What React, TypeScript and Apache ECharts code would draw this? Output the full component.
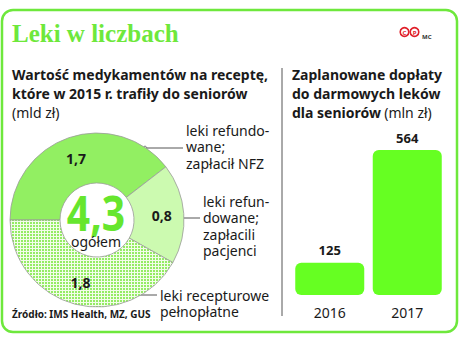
import React, { useEffect, useRef } from "react";
import * as echarts from "echarts";

const pieNames = ["leki refundowane; zapłacił NFZ", "leki refundowane; zapłacili pacjenci", "leki recepturowe pełnopłatne"];
const pieValues = [1.7, 0.8, 1.8];
const barCategories = ["2016", "2017"];
const barValues = [125, 564];

const SANS = "'Noto Sans', 'Open Sans', sans-serif";

function makePattern(): string {
  const c = document.createElement("canvas");
  c.width = 3;
  c.height = 3;
  const ctx = c.getContext("2d")!;
  ctx.fillStyle = "#f2fde9";
  ctx.fillRect(0, 0, 3, 3);
  ctx.fillStyle = "#94ec64";
  ctx.fillRect(0, 0, 2, 2);
  return c.toDataURL();
}

export default function App() {
  const ref = useRef<HTMLDivElement>(null);
  useEffect(() => {
    const chart = echarts.init(ref.current!, undefined, { renderer: "svg" });
    const total = pieValues.reduce((a, b) => a + b, 0);
    const fmt = (v: number) => v.toFixed(1).replace(".", ",");
    const pat = makePattern();
    const pieColors: any[] = ["#92ef62", "#ccfab0", { image: pat, repeat: "repeat" }];
    const txt = (x: number, y: number, text: string, style: any = {}) => ({
      type: "text",
      x,
      y,
      style: { text, fill: "#1a1a1a", font: `14px ${SANS}`, lineHeight: 16.5, ...style },
    });
    const leader = (x1: number, y: number, x2: number) => [
      { type: "line", shape: { x1, y1: y, x2, y2: y }, style: { stroke: "#555", lineWidth: 1 } },
      { type: "circle", shape: { cx: x1, cy: y, r: 1.8 }, style: { fill: "#fff", stroke: "#777", lineWidth: 1 } },
    ];
    const badge = (cx: number, letter: string) => [
      { type: "circle", shape: { cx, cy: 32, r: 4.3 }, style: { fill: "#fff", stroke: "#e0202a", lineWidth: 1.6 } },
      {
        type: "text",
        x: cx,
        y: 32.5,
        style: { text: letter, font: `bold 6px ${SANS}`, fill: "#e0202a", align: "center", verticalAlign: "middle" },
      },
    ];
    chart.setOption({
      animation: false,
      grid: { left: 291, right: 24, top: 150, bottom: 51 },
      xAxis: {
        type: "category",
        data: barCategories,
        axisLine: { show: false },
        axisTick: { show: false },
        axisLabel: { fontSize: 14, color: "#1a1a1a", fontFamily: SANS, margin: 10 },
      },
      yAxis: { type: "value", min: 0, max: 564, show: false, splitLine: { show: false } },
      series: [
        {
          type: "bar",
          data: barValues,
          barWidth: 69,
          itemStyle: { color: "#66ff22", borderRadius: 6 },
          label: {
            show: true,
            position: "top",
            distance: 6,
            fontSize: 13,
            fontWeight: "bold",
            color: "#1a1a1a",
            fontFamily: SANS,
          },
        },
        {
          type: "pie",
          center: [97, 220],
          radius: [37, 87],
          startAngle: 180,
          clockwise: true,
          data: pieValues.map((v, i) => ({ name: pieNames[i], value: v, itemStyle: { color: pieColors[i] } })),
          itemStyle: { borderColor: "#9a9a9a", borderWidth: 0.8 },
          label: {
            show: true,
            position: "inner",
            formatter: (p: any) => fmt(p.value),
            fontSize: 14,
            fontWeight: "bold",
            color: "#1a1a1a",
            fontFamily: SANS,
          },
          labelLine: { show: false },
          emphasis: { disabled: true },
        },
      ],
      graphic: [
        {
          type: "rect",
          shape: { x: 2, y: 10, width: 455, height: 322, r: 11 },
          style: { fill: "none", stroke: "#6ee83c", lineWidth: 2.5 },
          silent: true,
        },
        { type: "line", shape: { x1: 282, y1: 68, x2: 282, y2: 316 }, style: { stroke: "#555", lineWidth: 1 } },
        txt(12, 25, "Leki w liczbach", {
          font: "bold 25px 'Liberation Serif', 'DejaVu Serif', serif",
          fill: "#6ee83c",
        }),
        ...badge(404.5, "C"),
        ...badge(414.5, "P"),
        txt(422, 29, "MC", { font: `bold 6px ${SANS}`, fill: "#333" }),
        {
          type: "text",
          x: 12,
          y: 65,
          style: {
            text: "{b|Wartość medykamentów na receptę,}\n{b|które w 2015 r. trafiły do seniorów}\n{n|(mld zł)}",
            lineHeight: 19,
            rich: {
              b: { font: `bold 14px ${SANS}`, fill: "#1a1a1a", lineHeight: 19 },
              n: { font: `14px ${SANS}`, fill: "#1a1a1a", lineHeight: 19 },
            },
          },
        },
        {
          type: "text",
          x: 292,
          y: 65,
          style: {
            text: "{b|Zaplanowane dopłaty}\n{b|do darmowych leków}\n{b|dla seniorów} {n|(mln zł)}",
            lineHeight: 19,
            rich: {
              b: { font: `bold 14px ${SANS}`, fill: "#1a1a1a", lineHeight: 19 },
              n: { font: `14px ${SANS}`, fill: "#1a1a1a", lineHeight: 19 },
            },
          },
        },
        {
          type: "text",
          x: 96,
          y: 212,
          scaleX: 0.85,
          style: {
            text: fmt(total),
            font: `bold 48px ${SANS}`,
            fill: "#66e62e",
            align: "center",
            verticalAlign: "middle",
          },
        },
        txt(96, 241, "ogółem", { align: "center", verticalAlign: "middle", font: `14px ${SANS}` }),
        ...leader(145, 148, 183),
        txt(186, 122, "leki refundo-\nwane;\nzapłacił NFZ"),
        ...leader(180, 218, 200),
        txt(203, 193, "leki refun-\ndowane;\nzapłacili\npacjenci"),
        ...leader(122, 295, 157),
        txt(160, 287, "leki recepturowe\npełnopłatne"),
        txt(12, 306, "Źródło: IMS Health, MZ, GUS", { font: `bold 10px ${SANS}` }),
      ],
    });
    return () => chart.dispose();
  }, []);
  return (
    <div
      ref={ref}
      style={{ position: "fixed", left: 0, top: 0, width: 470, height: 346, background: "#fff" }}
    />
  );
}
